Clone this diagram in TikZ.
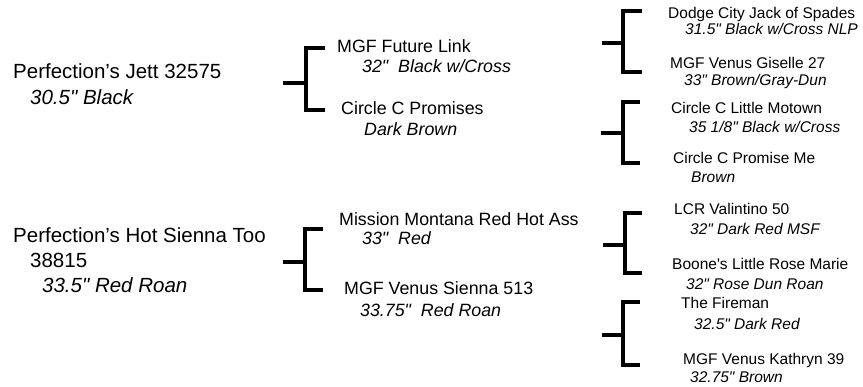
\documentclass[tikz,border=0pt]{standalone}
\usepackage{fontspec}
\setmainfont{Liberation Sans}[Ligatures=TeXOff]
\begin{document}
\begin{tikzpicture}[x=1pt,y=-1pt,
  lbl/.style={inner sep=0pt,anchor=base west},
  gone/.style={lbl,font=\fontsize{20.5}{24}\selectfont},
  gonei/.style={lbl,font=\fontsize{20.5}{24}\selectfont\itshape},
  gtwo/.style={lbl,font=\fontsize{17.8}{21}\selectfont},
  gtwoi/.style={lbl,font=\fontsize{17.8}{21}\selectfont\itshape},
  gthr/.style={lbl,font=\fontsize{15.5}{18}\selectfont},
  gthri/.style={lbl,font=\fontsize{15.5}{18}\selectfont\itshape},
  brk/.style={line width=3.4pt,line join=miter}]
\useasboundingbox (0,0) rectangle (863,387);
\fill[white] (0,0) rectangle (863,387);

% generation 1
\node[gone]  (s1)  at (13,79)  {Perfection’s Jett 32575};
\node[gonei] (s1c) at (30,105) {30.5" Black};
\node[gone]  (s2)  at (13,243) {Perfection’s Hot Sienna Too};
\node[gone]  (s2n) at (30,268) {38815};
\node[gonei] (s2c) at (42,293) {33.5" Red Roan};

% generation 2
\node[gtwo]  (p1)  at (337,53)  {MGF Future Link};
\node[gtwoi] (p1c) at (362,73)  {32"\ \ Black w/Cross};
\node[gtwo]  (p2)  at (341,115) {Circle C Promises};
\node[gtwoi] (p2c) at (364,136) {Dark Brown};
\node[gtwo]  (p3)  at (339,226) {Mission Montana Red Hot Ass};
\node[gtwoi] (p3c) at (362,245) {33"\ \ Red};
\node[gtwo]  (p4)  at (344,295) {MGF Venus Sienna 513};
\node[gtwoi] (p4c) at (360,317) {33.75"\ \ Red Roan};

% generation 3
\node[gthr]  (g1)  at (668,19)  {Dodge City Jack of Spades};
\node[gthri] (g1c) at (685,35)  {31.5" Black w/Cross NLP};
\node[gthr]  (g2)  at (670,69)  {MGF Venus Giselle 27};
\node[gthri] (g2c) at (684,86)  {33" Brown/Gray-Dun};
\node[gthr]  (g3)  at (671,114) {Circle C Little Motown};
\node[gthri] (g3c) at (689,133) {35 1/8" Black w/Cross};
\node[gthr]  (g4)  at (673,164) {Circle C Promise Me};
\node[gthri] (g4c) at (691,183) {Brown};
\node[gthr]  (g5)  at (674,215) {LCR Valintino 50};
\node[gthri] (g5c) at (690,235) {32" Dark Red MSF};
\node[gthr]  (g6)  at (672,270) {Boone's Little Rose Marie};
\node[gthri] (g6c) at (686,290) {32" Rose Dun Roan};
\node[gthr]  (g7)  at (681,309) {The Fireman};
\node[gthri] (g7c) at (694,330) {32.5" Dark Red};
\node[gthr]  (g8)  at (683,365) {MGF Venus Kathryn 39};
\node[gthri] (g8c) at (690,383) {32.75" Brown};

% brackets: stub start, stub end, top arm end, top corner, bottom corner, bottom arm end
\coordinate (b1s) at (283,83);  \coordinate (b1m) at (306,83);
\coordinate (b1a) at (325,48);  \coordinate (b1t) at (306,48);
\coordinate (b1b) at (306,110); \coordinate (b1e) at (325,110);
\draw[brk] (b1a) -- (b1t) -- (b1b) -- (b1e);
\draw[brk] (b1s) -- (b1m);

\coordinate (b2s) at (283,262); \coordinate (b2m) at (305,262);
\coordinate (b2a) at (323,229); \coordinate (b2t) at (305,229);
\coordinate (b2b) at (305,290); \coordinate (b2e) at (323,290);
\draw[brk] (b2a) -- (b2t) -- (b2b) -- (b2e);
\draw[brk] (b2s) -- (b2m);

\coordinate (b3s) at (602,43);  \coordinate (b3m) at (623,43);
\coordinate (b3a) at (642,11);  \coordinate (b3t) at (623,11);
\coordinate (b3b) at (623,72);  \coordinate (b3e) at (642,72);
\draw[brk] (b3a) -- (b3t) -- (b3b) -- (b3e);
\draw[brk] (b3s) -- (b3m);

\coordinate (b4s) at (601,133); \coordinate (b4m) at (623,133);
\coordinate (b4a) at (640,102); \coordinate (b4t) at (623,102);
\coordinate (b4b) at (623,163); \coordinate (b4e) at (640,163);
\draw[brk] (b4a) -- (b4t) -- (b4b) -- (b4e);
\draw[brk] (b4s) -- (b4m);

\coordinate (b5s) at (603,245); \coordinate (b5m) at (625,245);
\coordinate (b5a) at (642,213); \coordinate (b5t) at (625,213);
\coordinate (b5b) at (625,273); \coordinate (b5e) at (642,273);
\draw[brk] (b5a) -- (b5t) -- (b5b) -- (b5e);
\draw[brk] (b5s) -- (b5m);

\coordinate (b6s) at (602,335); \coordinate (b6m) at (623,335);
\coordinate (b6a) at (640,302); \coordinate (b6t) at (623,302);
\coordinate (b6b) at (623,365); \coordinate (b6e) at (640,365);
\draw[brk] (b6a) -- (b6t) -- (b6b) -- (b6e);
\draw[brk] (b6s) -- (b6m);
\end{tikzpicture}
\end{document}
